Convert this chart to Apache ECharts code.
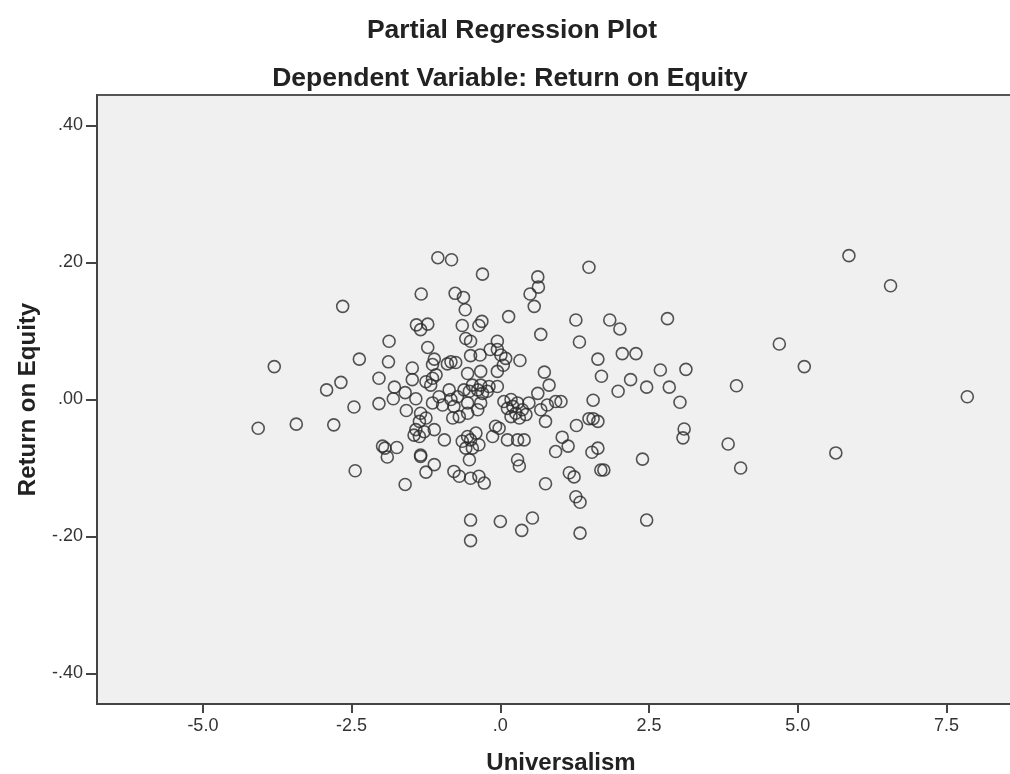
<!DOCTYPE html>
<html>
<head>
<meta charset="utf-8">
<script src="https://cdn.jsdelivr.net/npm/echarts@6/dist/echarts.min.js"></script>
<style>
  html, body { margin: 0; padding: 0; background: #ffffff; }
  #chart { width: 1010px; height: 774px; }
</style>
</head>
<body>
<div id="chart"></div>
<script>
// Partial regression residuals: Universalism (x) vs Return on Equity (y)
const universalism = [
  -4.07, -3.80, -3.43, -2.65, -2.92, -2.68, -2.80, -2.46, -2.44, -2.37,
  -2.04, -2.04, -1.87, -1.88, -1.98, -1.94, -1.90, -1.74, -1.78, -1.80,
  -1.60, -1.58, -1.60, -1.48, -1.48, -1.42, -1.33, -1.41, -1.34, -1.34,
  -1.05, -0.82, -0.30, 0.63, 0.64, 0.50, 0.57, -0.76, -0.62, -0.59,
  0.14, 1.27, -1.22, -0.64, -0.31, -0.36, 0.68, 1.33, -1.22, -0.58,
  -0.50, -0.05, -0.50, -0.34, -0.17, -0.05, 0.01, 0.09, 0.33, -1.11,
  -0.83, -0.75, -0.89, -1.14, 0.74, -0.55, -0.33, -0.05, 0.05, 0.82,
  0.63, 0.79, 0.93, 0.68, 0.76, 1.28, 1.04, 1.14, 0.93, 1.16,
  1.24, 0.76, -1.25, -1.14, -1.08, -1.17, -1.14, -0.86, -1.03, -0.97,
  -0.83, -0.78, -0.72, -0.61, -0.52, -0.38, -0.30, -0.22, -0.05, -0.47,
  -0.33, -0.19, -0.55, -0.38, -0.33, -0.55, -0.69, -0.80, -1.34, -1.25,
  -1.36, -1.42, -1.28, -1.45, -1.36, -1.11, -0.94, -0.64, -0.55, -0.50,
  -0.41, -0.58, -0.47, -0.52, -0.36, -0.13, -0.02, -0.08, 0.12, 0.21,
  0.26, 0.18, 0.32, 0.29, 0.18, 0.06, 0.37, 0.43, 0.48, 0.12,
  0.29, 0.40, 0.29, 0.32, -1.34, -1.11, -1.25, -0.78, -0.69, -0.50,
  -0.36, -0.27, 1.27, 1.34, -0.50, -0.50, 0.00, 0.36, 0.54, 1.34,
  1.49, 1.84, 2.01, 2.81, 1.64, 2.05, 2.28, 2.69, 3.12, 1.70,
  2.19, 1.98, 2.46, 2.84, 3.02, 3.97, 1.02, 1.56, 1.49, 1.56,
  1.64, 3.09, 3.07, 3.83, 1.54, 1.64, 2.39, 1.69, 1.74, 2.46,
  4.04, 5.86, 6.56, 4.69, 5.11, 7.85, 5.64
];
const returnOnEquity = [
  -0.042, 0.048, -0.036, 0.136, 0.014, 0.025, -0.037, -0.011, -0.104, 0.059,
  0.031, -0.006, 0.085, 0.055, -0.068, -0.071, -0.084, -0.070, 0.018, 0.001,
  0.010, -0.016, -0.124, 0.046, 0.029, 0.001, 0.154, 0.109, 0.102, -0.083,
  0.207, 0.204, 0.183, 0.179, 0.164, 0.154, 0.136, 0.155, 0.149, 0.131,
  0.121, 0.116, 0.110, 0.108, 0.114, 0.108, 0.095, 0.084, 0.076, 0.089,
  0.085, 0.085, 0.064, 0.065, 0.073, 0.073, 0.065, 0.060, 0.057, 0.059,
  0.055, 0.054, 0.052, 0.051, 0.040, 0.038, 0.041, 0.041, 0.050, 0.021,
  0.009, -0.008, -0.003, -0.015, -0.032, -0.038, -0.055, -0.068, -0.076, -0.107,
  -0.113, -0.123, 0.026, 0.031, 0.036, 0.021, -0.005, 0.014, 0.004, -0.008,
  0.000, -0.010, 0.004, 0.014, 0.012, 0.014, 0.009, 0.012, 0.019, 0.021,
  0.021, 0.019, -0.005, -0.015, -0.005, -0.020, -0.025, -0.027, -0.020, -0.027,
  -0.032, -0.044, -0.047, -0.052, -0.054, -0.044, -0.059, -0.061, -0.054, -0.059,
  -0.049, -0.071, -0.071, -0.088, -0.066, -0.054, -0.042, -0.039, -0.013, -0.010,
  -0.020, -0.025, -0.027, -0.005, 0.000, -0.003, -0.015, -0.022, -0.005, -0.059,
  -0.059, -0.059, -0.088, -0.097, -0.081, -0.095, -0.106, -0.105, -0.112, -0.115,
  -0.112, -0.122, -0.142, -0.150, -0.176, -0.206, -0.178, -0.191, -0.173, -0.195,
  0.193, 0.116, 0.103, 0.118, 0.059, 0.067, 0.067, 0.043, 0.044, 0.034,
  0.029, 0.012, 0.018, 0.018, -0.004, 0.020, -0.003, -0.001, -0.028, -0.028,
  -0.032, -0.043, -0.056, -0.065, -0.077, -0.071, -0.087, -0.103, -0.103, -0.176,
  -0.100, 0.210, 0.166, 0.081, 0.048, 0.004, -0.078
];
const xTicks = [-5, -2.5, 0, 2.5, 5, 7.5];
const yTicks = [-0.4, -0.2, 0, 0.2, 0.4];

const points = universalism.map((x, i) => [x, returnOnEquity[i]]);

const FONT = "'Liberation Sans', Arial, sans-serif";
const INK = '#222222';

function decimalLabel(v, digits) {
  // 0.40 -> ".40", -0.20 -> "-.20", 0 -> ".00", 2.5 -> "2.5"
  const s = Math.abs(v).toFixed(digits).replace(/^0\./, '.');
  return (v < 0 ? '-' : '') + s;
}

const chart = echarts.init(document.getElementById('chart'), null, { renderer: 'canvas' });
chart.setOption({
  animation: false,
  backgroundColor: '#ffffff',
  title: [
    {
      text: 'Partial Regression Plot',
      left: 507, top: 12, textAlign: 'center',
      textStyle: { fontFamily: FONT, fontWeight: 'bold', fontSize: 26.5, color: INK }
    },
    {
      text: 'Dependent Variable: Return on Equity',
      left: 505, top: 60, textAlign: 'center',
      textStyle: { fontFamily: FONT, fontWeight: 'bold', fontSize: 26.5, color: INK }
    }
  ],
  grid: {
    show: true,
    left: 97, top: 95, width: 928, height: 609,
    outerBoundsMode: 'none',
    containLabel: false,
    backgroundColor: '#eff0ef',
    borderColor: '#555555',
    borderWidth: 2
  },
  xAxis: {
    type: 'value',
    min: -6.78, max: 8.82,
    name: 'Universalism',
    nameLocation: 'middle',
    nameGap: 47,
    nameTextStyle: { fontFamily: FONT, fontWeight: 'bold', fontSize: 24, color: INK },
    splitLine: { show: false },
    axisLine: { show: true, onZero: false, lineStyle: { color: '#444444', width: 2 } },
    axisTick: { show: true, customValues: xTicks, length: 9, lineStyle: { color: '#444444', width: 2 } },
    axisLabel: {
      customValues: xTicks, margin: 13,
      fontFamily: FONT, fontSize: 18, color: '#333333',
      formatter: v => decimalLabel(v, 1)
    }
  },
  yAxis: {
    type: 'value',
    min: -0.4445, max: 0.4445,
    name: 'Return on Equity',
    nameLocation: 'middle',
    nameGap: 57,
    nameTextStyle: { fontFamily: FONT, fontWeight: 'bold', fontSize: 24, color: INK },
    splitLine: { show: false },
    axisLine: { show: true, onZero: false, lineStyle: { color: '#444444', width: 2 } },
    axisTick: { show: true, customValues: yTicks, length: 11, lineStyle: { color: '#444444', width: 2 } },
    axisLabel: {
      customValues: yTicks, margin: 14,
      fontFamily: FONT, fontSize: 18, color: '#333333',
      formatter: v => decimalLabel(v, 2)
    }
  },
  series: [{
    type: 'scatter',
    data: points,
    symbol: 'circle',
    symbolSize: 12,
    itemStyle: { color: 'rgba(0,0,0,0)', borderColor: '#2a2a2a', borderWidth: 1.6 }
  }]
});
</script>
</body>
</html>
